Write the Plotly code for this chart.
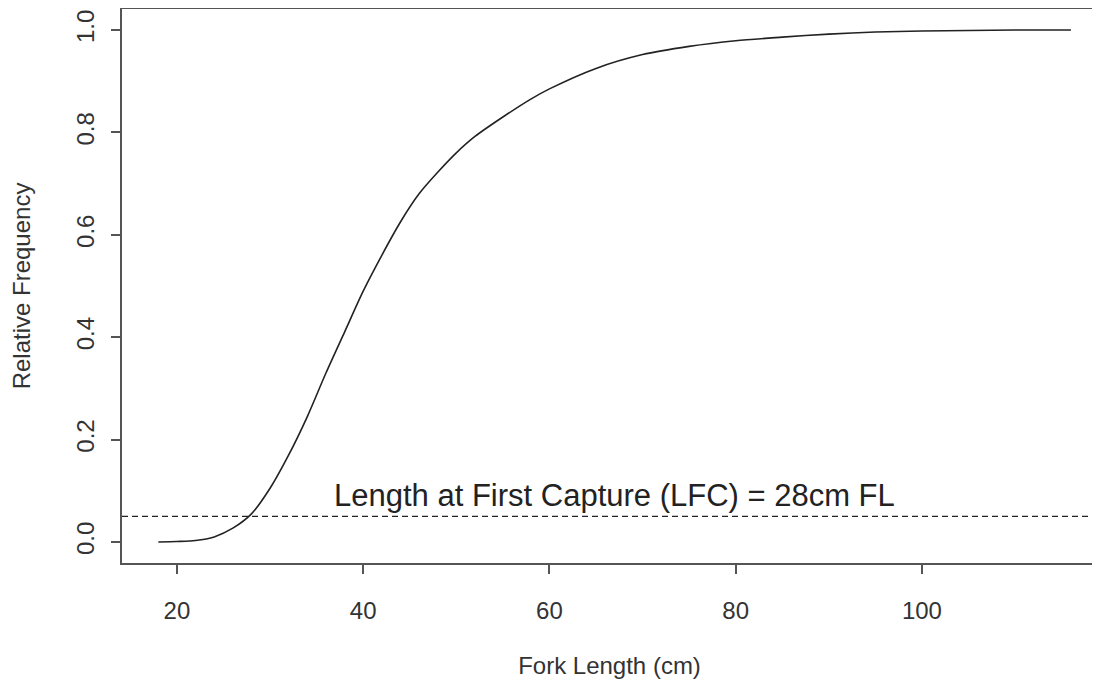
import plotly.graph_objects as go

fork_length = [18, 20, 22, 24, 26, 28, 30, 32, 34, 36, 38, 40, 42, 44, 46, 48, 50, 52, 55, 58, 60, 65, 70, 75, 80, 85, 90, 95, 100, 105, 110, 116]
rel_freq = [0.0, 0.001, 0.003, 0.01, 0.027, 0.055, 0.105, 0.17, 0.245, 0.33, 0.41, 0.49, 0.56, 0.625, 0.68, 0.722, 0.76, 0.792, 0.83, 0.865, 0.885, 0.925, 0.952, 0.968, 0.979, 0.986, 0.992, 0.996, 0.998, 0.999, 1.0, 1.0]
lfc_level = 0.05
x_ticks = [20, 40, 60, 80, 100]
y_ticks = [0.0, 0.2, 0.4, 0.6, 0.8, 1.0]
y_tick_text = ["0.0", "0.2", "0.4", "0.6", "0.8", "1.0"]
label_text = "Length at First Capture (LFC) = 28cm FL"
label_x = 67
label_y = 0.09

FONT = "Liberation Sans, Arial, sans-serif"

fig = go.Figure()
fig.add_trace(go.Scatter(x=fork_length, y=rel_freq, mode="lines",
                         line=dict(color="#222222", width=1.6, shape="spline", smoothing=0.8),
                         showlegend=False, hoverinfo="skip"))
fig.add_hline(y=lfc_level, line=dict(color="#222222", width=1.4, dash="6px,4px"))
fig.add_annotation(x=label_x, y=label_y, text=label_text, showarrow=False,
                   font=dict(size=31, color="#222222", family=FONT))

axis_common = dict(showline=True, linecolor="#555555", linewidth=1.6, mirror=True,
                   ticks="outside", ticklen=9, tickcolor="#555555", tickwidth=1.6,
                   showgrid=False, zeroline=False,
                   tickfont=dict(size=24, color="#333333", family=FONT))

fig.update_xaxes(range=[14.1, 118.8], tickvals=x_ticks, ticklabelstandoff=16,
                 title=dict(text="Fork Length (cm)", standoff=35,
                            font=dict(size=24, color="#333333", family=FONT)),
                 **axis_common)
fig.update_yaxes(range=[-0.041, 1.041], tickvals=y_ticks, ticktext=y_tick_text, tickangle=-90,
                 ticklabelstandoff=8,
                 title=dict(text="Relative Frequency", standoff=42,
                            font=dict(size=24, color="#333333", family=FONT)),
                 **axis_common)

fig.update_layout(width=1092, height=674, margin=dict(l=114, r=3, t=1, b=119, autoexpand=False),
                  plot_bgcolor="white", paper_bgcolor="white",
                  font=dict(family=FONT))
fig.write_html("out.html")
